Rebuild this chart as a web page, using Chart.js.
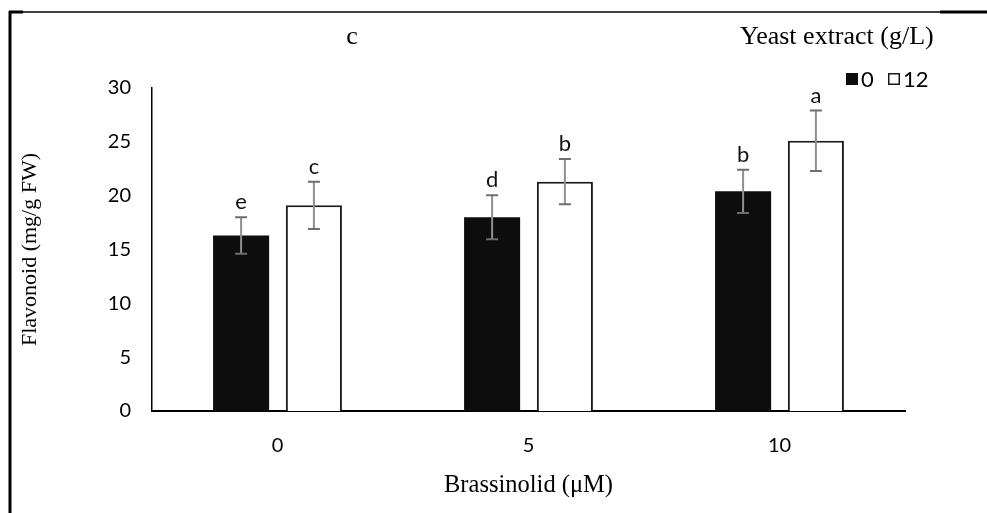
<!DOCTYPE html>
<html>
<head>
<meta charset="utf-8">
<script src="https://cdn.jsdelivr.net/npm/chart.js@4"></script>
<style>
  html, body { margin: 0; padding: 0; background: #fff; }
  #wrap { width: 987px; height: 513px; }
</style>
</head>
<body>
<div id="wrap"><canvas id="chart" width="987" height="513"></canvas></div>
<script>
// ===== 数据 =====
var categories = ['0', '5', '10'];
var seriesNames = ['0', '12'];
var yeast0 = [16.3, 18.0, 20.4];
var yeast12 = [19.1, 21.3, 25.1];
var err0 = [1.7, 2.05, 2.0];
var err12 = [2.2, 2.1, 2.8];
var letters0 = ['e', 'd', 'b'];
var letters12 = ['c', 'b', 'a'];
var yTicks = [0, 5, 10, 15, 20, 25, 30];

var SANS = 'Lato';
var SERIF = 'Liberation Serif';

// ===== 误差线 + 字母标注 =====
var errorBarPlugin = {
  id: 'errorBars',
  afterDatasetsDraw: function(chart) {
    var ctx = chart.ctx;
    var yScale = chart.scales.y;
    chart.data.datasets.forEach(function(ds, di) {
      var meta = chart.getDatasetMeta(di);
      meta.data.forEach(function(bar, i) {
        var v = ds.data[i], e = ds.errors[i];
        var yTop = yScale.getPixelForValue(v + e);
        var yBot = yScale.getPixelForValue(v - e);
        ctx.save();
        ctx.strokeStyle = '#8f8f8f';
        ctx.lineWidth = 2;
        ctx.beginPath();
        ctx.moveTo(bar.x, yTop);
        ctx.lineTo(bar.x, yBot);
        ctx.stroke();
        ctx.strokeStyle = '#6e6e6e';
        ctx.beginPath();
        ctx.moveTo(bar.x - 6, yTop); ctx.lineTo(bar.x + 6, yTop);
        ctx.moveTo(bar.x - 6, yBot); ctx.lineTo(bar.x + 6, yBot);
        ctx.stroke();
        ctx.fillStyle = '#111';
        ctx.font = '22px ' + SANS;
        ctx.textAlign = 'center';
        ctx.textBaseline = 'alphabetic';
        ctx.fillText(ds.letters[i], bar.x, yTop - 8);
        ctx.restore();
      });
    });
  }
};

// ===== 外框、标题、图例 =====
var decorPlugin = {
  id: 'decor',
  afterDraw: function(chart) {
    var ctx = chart.ctx;
    ctx.save();
    ctx.strokeStyle = '#000';
    ctx.lineWidth = 1.5;
    ctx.beginPath();
    ctx.moveTo(9, 12); ctx.lineTo(987, 12);
    ctx.stroke();
    ctx.lineWidth = 3;
    ctx.beginPath();
    ctx.moveTo(940, 12); ctx.lineTo(987, 12);
    ctx.moveTo(10, 11); ctx.lineTo(10, 513);
    ctx.moveTo(9, 12); ctx.lineTo(23, 12);
    ctx.stroke();

    ctx.fillStyle = '#000';
    ctx.font = '26px ' + SERIF;
    ctx.textBaseline = 'middle';
    ctx.textAlign = 'center';
    ctx.fillText('c', 352, 37);
    ctx.textAlign = 'left';
    ctx.fillText('Yeast extract (g/L)', 740, 37);

    // 图例
    var ds = chart.data.datasets;
    ctx.font = '22px ' + SANS;
    ctx.fillStyle = ds[0].backgroundColor;
    ctx.fillRect(846, 73, 12, 12);
    ctx.fillStyle = '#000';
    ctx.fillText(ds[0].label, 861, 80);
    ctx.fillStyle = ds[1].backgroundColor;
    ctx.fillRect(888, 73, 12, 12);
    ctx.strokeStyle = ds[1].borderColor;
    ctx.lineWidth = 1.5;
    ctx.strokeRect(888.75, 73.75, 10.5, 10.5);
    ctx.fillStyle = '#000';
    ctx.fillText(ds[1].label, 903, 80);
    ctx.restore();
  }
};

new Chart(document.getElementById('chart'), {
  type: 'bar',
  data: {
    labels: categories,
    datasets: [
      {
        label: seriesNames[0],
        data: yeast0,
        errors: err0,
        letters: letters0,
        backgroundColor: '#0d0d0d',
        borderWidth: 0,
        categoryPercentage: 0.58,
        barPercentage: 0.77
      },
      {
        label: seriesNames[1],
        data: yeast12,
        errors: err12,
        letters: letters12,
        backgroundColor: '#ffffff',
        borderColor: '#1a1a1a',
        borderWidth: 2,
        categoryPercentage: 0.58,
        barPercentage: 0.77
      }
    ]
  },
  options: {
    responsive: false,
    animation: false,
    layout: { padding: { top: 88, right: 82, left: 0, bottom: 0 } },
    plugins: {
      legend: { display: false },
      tooltip: { enabled: false }
    },
    scales: {
      x: {
        grid: { display: false, drawTicks: false },
        border: { display: true, color: '#000', width: 2 },
        ticks: { padding: 23, color: '#000', font: { family: SANS, size: 20 } },
        title: {
          display: true,
          text: 'Brassinolid (μM)',
          color: '#000',
          font: { family: SERIF, size: 24.5 },
          padding: { top: 0, bottom: 13 }
        },
        afterFit: function(s) { s.height = 102; }
      },
      y: {
        min: 0,
        max: 30,
        afterBuildTicks: function(s) {
          s.ticks = yTicks.map(function(v) { return { value: v }; });
        },
        grid: { display: false, drawTicks: false },
        border: { display: true, color: '#000', width: 1.5 },
        ticks: { padding: 21, color: '#000', font: { family: SANS, size: 20 } },
        title: {
          display: true,
          text: 'Flavonoid (mg/g FW)',
          color: '#000',
          font: { family: SERIF, size: 22 },
          padding: { top: 17, bottom: 0 }
        },
        afterFit: function(s) { s.width = 152; }
      }
    }
  },
  plugins: [errorBarPlugin, decorPlugin]
});
</script>
</body>
</html>
